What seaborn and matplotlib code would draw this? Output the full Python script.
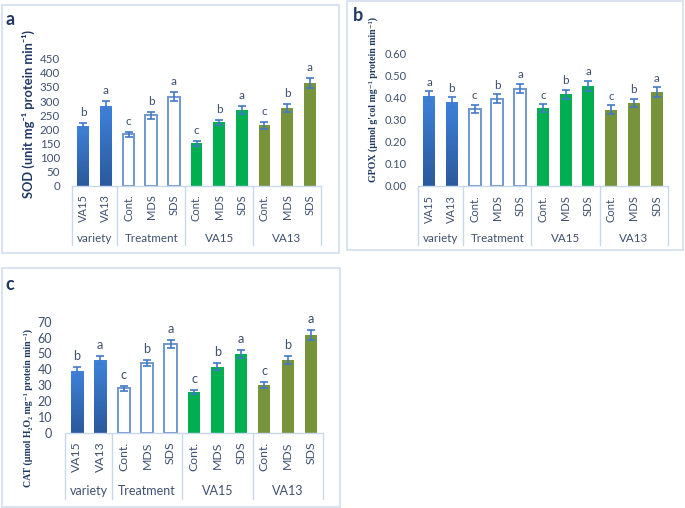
import numpy as np
import pandas as pd
import matplotlib
matplotlib.use("Agg")
import matplotlib.pyplot as plt
import seaborn as sns
from matplotlib.colors import LinearSegmentedColormap
from matplotlib.patches import Rectangle
from matplotlib.ticker import FormatStrFormatter

# ---------------- data ----------------
bar_groups = ["variety", "variety", "Treatment", "Treatment", "Treatment",
              "VA15", "VA15", "VA15", "VA13", "VA13", "VA13"]
bar_labels = ["VA15", "VA13", "Cont.", "MDS", "SDS",
              "Cont.", "MDS", "SDS", "Cont.", "MDS", "SDS"]
group_names = ["variety", "Treatment", "VA15", "VA13"]

sod_mean = [213, 284, 183, 250, 316, 151, 225, 268, 215, 275, 365]
sod_err = [11, 15, 9, 12, 16, 9, 10, 14, 12, 14, 18]
sod_letters = ["b", "a", "c", "b", "a", "c", "b", "a", "c", "b", "a"]
sod_ticks = [0, 50, 100, 150, 200, 250, 300, 350, 400, 450]

gpox_mean = [0.407, 0.380, 0.349, 0.395, 0.440, 0.351, 0.415, 0.453, 0.345, 0.375, 0.424]
gpox_err = [0.021, 0.021, 0.017, 0.020, 0.021, 0.018, 0.021, 0.023, 0.020, 0.019, 0.023]
gpox_letters = ["a", "b", "c", "b", "a", "c", "b", "a", "c", "b", "a"]
gpox_ticks = [0.0, 0.1, 0.2, 0.3, 0.4, 0.5, 0.6]

cat_mean = [38.9, 45.8, 28.0, 44.1, 55.9, 25.7, 41.6, 49.8, 30.1, 46.0, 61.8]
cat_err = [2.3, 2.7, 1.5, 1.9, 2.7, 1.5, 2.3, 2.5, 1.7, 2.5, 3.2]
cat_letters = ["b", "a", "c", "b", "a", "c", "b", "a", "c", "b", "a"]
cat_ticks = [0, 10, 20, 30, 40, 50, 60, 70]

sod_ylabel = "SOD (unit mg\u207b\u00b9 protein min\u207b\u00b9)"
gpox_ylabel = "GPOX (\u00b5mol g'col mg\u207b\u00b9 protein min\u207b\u00b9)"
cat_ylabel = "CAT (\u00b5mol H\u2082O\u2082 mg\u207b\u00b9 protein min\u207b\u00b9)"

# ---------------- style ----------------
group_colors = {"variety": "#3a78c9", "Treatment": "#ffffff",
                "VA15": "#00b050", "VA13": "#77933c"}
TXT = "#3f5070"
NAVY = "#1f3864"
LINE = "#c9d7ec"
ERR = "#4279c8"
EDGE_T = "#6f97cf"
FRAME = "#d6e0f0"

sns.set_theme(style="white")
plt.rcParams["font.family"] = ["Lato", "DejaVu Sans"]

W, H = 685, 508
fig = plt.figure(figsize=(W / 100, H / 100), dpi=100)
PT = 0.72  # points per pixel

grad_cmap = LinearSegmentedColormap.from_list("g", ["#2b599c", "#3e82da"])


def panel(rect_px, means, errs, letters, yticks, tickfmt, tick_fs, letter_fs,
          xlab_fs, grp_fs, tickpad, labpad, grp_off, sep_len, letter_off):
    l, t, r, b = rect_px
    ax = fig.add_axes([l / W, (H - b) / H, (r - l) / W, (b - t) / H])
    ax_h = b - t
    keys = [f"{g}|{lab}" for g, lab in zip(bar_groups, bar_labels)]
    df = pd.DataFrame({"key": keys, "group": bar_groups, "mean": means})
    pal = {k: group_colors[g] for k, g in zip(keys, bar_groups)}
    sns.barplot(data=df, x="key", y="mean", hue="key", order=keys, hue_order=keys,
                palette=pal, legend=False, width=0.52, saturation=1,
                linewidth=0, errorbar=None, ax=ax)
    centers = {}
    for p in ax.patches:
        c = p.get_x() + p.get_width() / 2
        i = int(round(c))
        centers[i] = c
        g = bar_groups[i]
        if g == "Treatment":
            p.set_facecolor("white")
            p.set_edgecolor(EDGE_T)
            p.set_linewidth(1.4)
        elif g == "variety":
            x0 = p.get_x()
            grad = np.linspace(0, 1, 64).reshape(-1, 1)
            im = ax.imshow(grad, extent=[x0, x0 + p.get_width(), 0, p.get_height()],
                           origin="lower", aspect="auto", cmap=grad_cmap, zorder=p.get_zorder() + 0.1)
            im.set_clip_path(p)
    xs = [centers[i] for i in range(len(means))]
    ax.errorbar(xs, means, yerr=errs, fmt="none", ecolor=ERR, elinewidth=1.2,
                capsize=3, capthick=1.2, zorder=6)
    for x, m, e, lt in zip(xs, means, errs, letters):
        ax.annotate(lt, xy=(x, m + e), xytext=(0, letter_off), textcoords="offset points",
                    ha="center", va="baseline", fontsize=letter_fs, color=TXT)
    ax.set_xlim(-0.5, len(means) - 0.5)
    ax.set_ylim(yticks[0], yticks[-1])
    ax.set_yticks(yticks)
    ax.yaxis.set_major_formatter(FormatStrFormatter(tickfmt))
    ax.tick_params(axis="y", length=0, pad=tickpad * PT, labelsize=tick_fs, labelcolor=TXT)
    ax.set_xticks(range(len(means)))
    ax.set_xticklabels(bar_labels, rotation=90)
    ax.tick_params(axis="x", length=0, pad=labpad * PT, labelsize=xlab_fs, labelcolor=TXT)
    ax.set_xlabel("")
    ax.set_ylabel("")
    sns.despine(ax=ax, left=True)
    ax.spines["bottom"].set_color(LINE)
    ax.spines["bottom"].set_linewidth(1.0)
    # multi-level category axis
    bounds = [-0.5]
    for i in range(1, len(bar_groups)):
        if bar_groups[i] != bar_groups[i - 1]:
            bounds.append(i - 0.5)
    bounds.append(len(bar_groups) - 0.5)
    xt = ax.get_xaxis_transform()
    for bx in bounds:
        ax.plot([bx, bx], [0, -sep_len / ax_h], transform=xt, color=LINE, lw=1.0,
                clip_on=False, zorder=1)
    for gi, g in enumerate(group_names):
        cx = (bounds[gi] + bounds[gi + 1]) / 2
        ax.annotate(g, xy=(cx, 0), xycoords=xt, xytext=(0, -grp_off * PT),
                    textcoords="offset points", ha="center", va="center",
                    fontsize=grp_fs, color=TXT)
    return ax


panel((72, 58.7, 321, 186), sod_mean, sod_err, sod_letters, sod_ticks, "%d",
      8.3, 8.5, 8.0, 8.4, 12, 8, 53, 59, 5)
panel((417.7, 53.3, 668, 186), gpox_mean, gpox_err, gpox_letters, gpox_ticks, "%.2f",
      8.0, 8.4, 8.0, 8.4, 11, 9, 52, 59, 4)
panel((65, 321.7, 323, 432.7), cat_mean, cat_err, cat_letters, cat_ticks, "%d",
      9.0, 9.2, 8.8, 9.0, 13, 9, 58, 66, 5)


def fx(x):
    return x / W


def fy(y):
    return (H - y) / H


# panel frames
for (x0, y0, x1, y1) in [(2, 5, 339, 253), (347, 1, 683, 250), (2, 268, 340, 507)]:
    fig.add_artist(Rectangle((fx(x0), fy(y1)), (x1 - x0) / W, (y1 - y0) / H,
                             transform=fig.transFigure, fill=False,
                             edgecolor=FRAME, linewidth=1.3))

# panel letters
fig.text(fx(10.5), fy(25), "a", fontsize=13, fontweight="bold", color=NAVY,
         ha="center", va="baseline")
fig.text(fx(358), fy(20.7), "b", fontsize=13, fontweight="bold", color=NAVY,
         ha="center", va="baseline")
fig.text(fx(10), fy(290), "c", fontsize=13, fontweight="bold", color=NAVY,
         ha="center", va="baseline")

# y labels
fig.text(fx(28), fy(114), sod_ylabel, rotation=90, ha="center", va="center",
         fontsize=9.3, fontweight="bold", color=NAVY, family=["Lato", "DejaVu Sans"])
fig.text(fx(373.5), fy(100), gpox_ylabel, rotation=90, ha="center", va="center",
         fontsize=7.1, fontweight="bold", color=NAVY,
         family=["Liberation Serif", "DejaVu Serif"])
fig.text(fx(28), fy(408), cat_ylabel, rotation=90, ha="center", va="center",
         fontsize=7.1, fontweight="bold", color=NAVY,
         family=["Liberation Serif", "DejaVu Serif"])

fig.savefig("out.png", dpi=100)
